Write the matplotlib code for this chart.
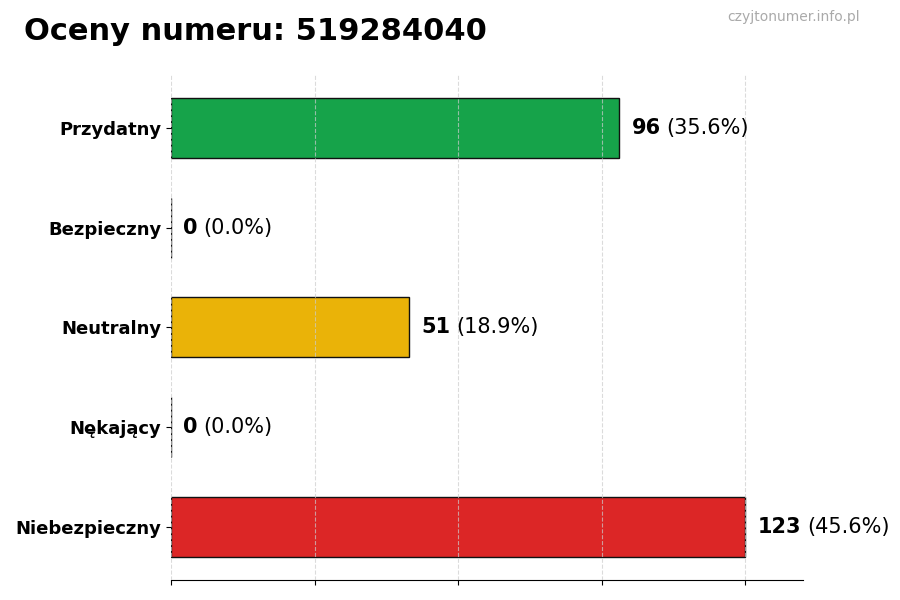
import numpy as np
import matplotlib
matplotlib.use("Agg")
import matplotlib.pyplot as plt

kategorie = ["Przydatny", "Bezpieczny", "Neutralny", "Nękający", "Niebezpieczny"]
liczby = [96, 0, 51, 0, 123]
kolory = ["#16a34a", "#16a34a", "#eab308", "#dc2626", "#dc2626"]
numer = "519284040"

suma = sum(liczby)
maks = max(liczby)

fig = plt.figure(figsize=(9, 6), dpi=100)
ax = fig.add_axes([0.19, 0.0333, 0.702, 0.842])

y = np.arange(len(kategorie))
ax.barh(y, liczby, height=0.6, color=kolory, edgecolor="#111111", linewidth=1, zorder=2)
ax.invert_yaxis()
ax.set_yticks(y)
ax.set_yticklabels(kategorie, fontsize=13, fontweight="bold")
ax.set_xlim(0, maks * 1.1)
ax.set_xticks(np.linspace(0, maks, 5))
ax.set_xticklabels([])
ax.grid(axis="x", linestyle="--", color="#cccccc", alpha=0.7, zorder=3)
ax.set_axisbelow(False)
for s in ["top", "right", "left"]:
    ax.spines[s].set_visible(False)

for yi, v in zip(y, liczby):
    t = ax.annotate(str(v), xy=(v, yi), xytext=(9, 0), textcoords="offset points",
                    ha="left", va="center", fontsize=15, fontweight="bold")
    ax.annotate(f"({v / suma * 100:.1f}%)", xy=(1, 0), xycoords=t,
                xytext=(4, 0), textcoords="offset points",
                ha="left", va="bottom", fontsize=15)

fig.text(0.027, 0.947, f"Oceny numeru: {numer}", fontsize=22, fontweight="bold",
         ha="left", va="center")
fig.text(0.955, 0.971, "czyjtonumer.info.pl", fontsize=10, color="#aaaaaa",
         ha="right", va="center")

fig.savefig("out.png", dpi=100)
